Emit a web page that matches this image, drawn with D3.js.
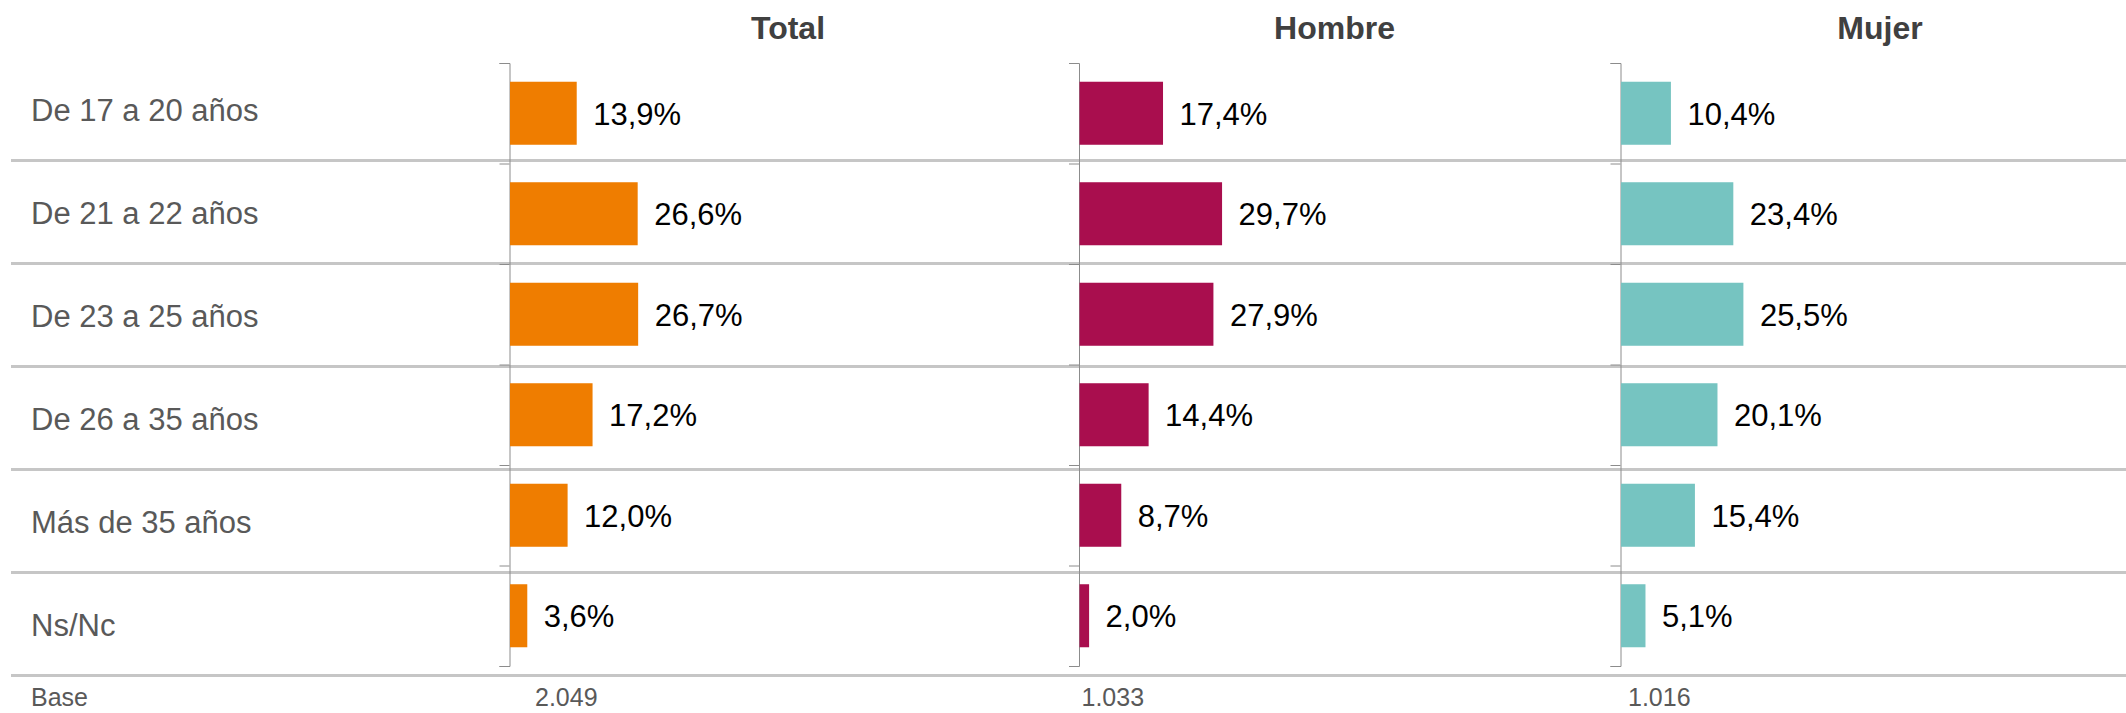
<!DOCTYPE html>
<html>
<head>
<meta charset="utf-8">
<script src="https://cdn.jsdelivr.net/npm/d3@7"></script>
<style>
  html, body { margin: 0; padding: 0; background: #fff; }
  svg { display: block; font-family: "Liberation Sans", Arial, sans-serif; }
</style>
</head>
<body>
<svg id="chart" width="2126" height="713"></svg>
<script>
// ---- data ----
const categories = ["De 17 a 20 años", "De 21 a 22 años", "De 23 a 25 años", "De 26 a 35 años", "Más de 35 años", "Ns/Nc"];
const seriesNames = ["Total", "Hombre", "Mujer"];
const totalValues = [13.9, 26.6, 26.7, 17.2, 12.0, 3.6];
const hombreValues = [17.4, 29.7, 27.9, 14.4, 8.7, 2.0];
const mujerValues = [10.4, 23.4, 25.5, 20.1, 15.4, 5.1];
const baseLabel = "Base";
const baseValues = ["2.049", "1.033", "1.016"];

// ---- layout ----
const W = 2126, H = 713;
const colors = ["#EF7D00", "#A90E4E", "#76C4C1"];
const panelAxisX = [509.5, 1079, 1620.5];
const titleX = [788, 1334.5, 1880];
const baseX = [535, 1081.5, 1628];

const svg = d3.select("#chart");
const fmt = v => d3.format(".1f")(v).replace(".", ",") + "%";

// rows for labels and separators
const rowY = d3.scaleBand().domain(categories).range([57, 675]).padding(0);
// rows for bars (axis bands)
const barY = d3.scaleBand().domain(categories).range([63, 666])
  .paddingInner(0.373).paddingOuter(0.1865);
const tickY = d3.scaleLinear().domain([0, categories.length]).range([63, 666]);
const x = d3.scaleLinear().domain([0, 100]).range([0, 480]);

// separators
svg.append("g").selectAll("line").data(categories).join("line")
  .attr("x1", 11).attr("x2", W)
  .attr("y1", d => rowY(d) + rowY.bandwidth() + 0.5)
  .attr("y2", d => rowY(d) + rowY.bandwidth() + 0.5)
  .attr("stroke", "#c6c6c6").attr("stroke-width", 3);

// row labels
svg.append("g").selectAll("text").data(categories).join("text")
  .attr("x", 31)
  .attr("y", d => rowY(d) + rowY.bandwidth() / 2 + 12)
  .attr("font-size", 31).attr("fill", "#595959")
  .text(d => d);

// base row
svg.append("text").attr("x", 31).attr("y", 706)
  .attr("font-size", 25).attr("fill", "#595959").text(baseLabel);

const allValues = [totalValues, hombreValues, mujerValues];

seriesNames.forEach((name, i) => {
  const g = svg.append("g").attr("transform", `translate(${panelAxisX[i]},0)`);
  const data = categories.map((c, j) => ({ c, v: allValues[i][j] }));

  // axis
  const axis = g.append("g")
    .call(d3.axisLeft(tickY).tickValues(d3.range(categories.length + 1))
      .tickSize(10).tickFormat(""));
  axis.selectAll("path, line").attr("stroke", "#8c8c8c").attr("stroke-width", 1);

  // bars
  g.append("g").selectAll("rect").data(data).join("rect")
    .attr("x", 0.5)
    .attr("y", d => barY(d.c))
    .attr("width", d => x(d.v))
    .attr("height", barY.bandwidth())
    .attr("fill", colors[i]);

  // value labels
  g.append("g").selectAll("text").data(data).join("text")
    .attr("x", d => x(d.v) + 17)
    .attr("y", d => barY(d.c) + barY.bandwidth() / 2 + 11.5)
    .attr("font-size", 31).attr("fill", "#000")
    .text(d => fmt(d.v));

  // title
  svg.append("text").attr("x", titleX[i]).attr("y", 38.5)
    .attr("text-anchor", "middle").attr("font-size", 32)
    .attr("font-weight", "bold").attr("fill", "#404040")
    .text(name);

  // base value
  svg.append("text").attr("x", baseX[i]).attr("y", 706)
    .attr("font-size", 25).attr("fill", "#595959")
    .text(baseValues[i]);
});
</script>
</body>
</html>
